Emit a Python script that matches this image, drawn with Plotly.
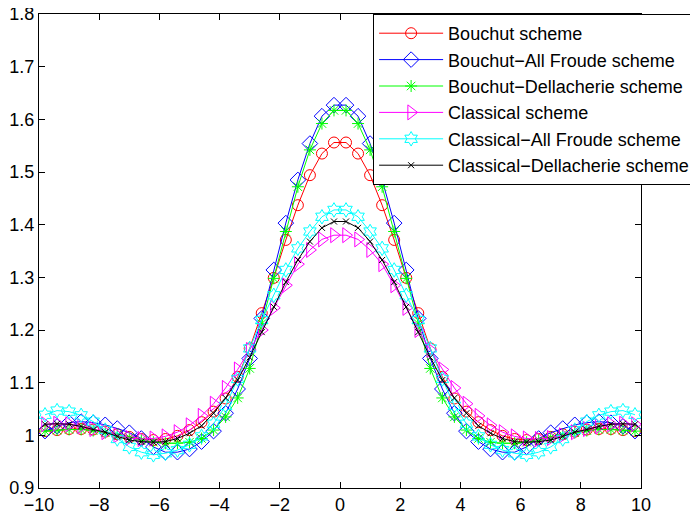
import plotly.graph_objects as go

x_vals = [-9.8, -9.4, -9.0, -8.6, -8.2, -7.8, -7.4, -7.0, -6.6, -6.2,
          -5.8, -5.4, -5.0, -4.6, -4.2, -3.8, -3.4, -3.0, -2.6, -2.2,
          -1.8, -1.4, -1.0, -0.6, -0.2, 0.2, 0.6, 1.0, 1.4, 1.8,
          2.2, 2.6, 3.0, 3.4, 3.8, 4.2, 4.6, 5.0, 5.4, 5.8,
          6.2, 6.6, 7.0, 7.4, 7.8, 8.2, 8.6, 9.0, 9.4, 9.8]

bouchut = [1.008, 1.010, 1.012, 1.012, 1.011, 1.007, 1.002, 0.997, 0.993, 0.991,
           0.993, 0.999, 1.010, 1.025, 1.045, 1.070, 1.111, 1.165, 1.232, 1.299,
           1.371, 1.437, 1.494, 1.535, 1.556, 1.556, 1.535, 1.494, 1.437, 1.371,
           1.299, 1.232, 1.165, 1.111, 1.070, 1.045, 1.025, 1.010, 0.999, 0.993,
           0.991, 0.993, 0.997, 1.002, 1.007, 1.011, 1.012, 1.012, 1.010, 1.008]

bouchut_af = [1.008, 1.017, 1.024, 1.026, 1.024, 1.020, 1.013, 1.005, 0.994, 0.978,
              0.968, 0.968, 0.974, 0.988, 1.008, 1.042, 1.088, 1.146, 1.222, 1.314,
              1.403, 1.485, 1.554, 1.606, 1.627, 1.627, 1.606, 1.554, 1.485, 1.403,
              1.314, 1.222, 1.146, 1.088, 1.042, 1.008, 0.988, 0.974, 0.968, 0.968,
              0.978, 0.994, 1.005, 1.013, 1.020, 1.024, 1.026, 1.024, 1.017, 1.008]

bouchut_dl = [1.008, 1.010, 1.011, 1.011, 1.009, 1.005, 1.001, 0.996, 0.991, 0.987,
              0.985, 0.985, 0.987, 0.994, 1.010, 1.035, 1.071, 1.127, 1.212, 1.298,
              1.387, 1.472, 1.542, 1.592, 1.617, 1.617, 1.592, 1.542, 1.472, 1.387,
              1.298, 1.212, 1.127, 1.071, 1.035, 1.010, 0.994, 0.987, 0.985, 0.985,
              0.987, 0.991, 0.996, 1.001, 1.005, 1.009, 1.011, 1.011, 1.010, 1.008]

classical = [1.021, 1.022, 1.021, 1.017, 1.012, 1.006, 1.000, 0.995, 0.993, 0.994,
             0.998, 1.006, 1.019, 1.037, 1.060, 1.090, 1.125, 1.162, 1.200, 1.242,
             1.285, 1.325, 1.352, 1.372, 1.380, 1.380, 1.372, 1.352, 1.325, 1.285,
             1.242, 1.200, 1.162, 1.125, 1.090, 1.060, 1.037, 1.019, 1.006, 0.998,
             0.994, 0.993, 0.995, 1.000, 1.006, 1.012, 1.017, 1.021, 1.022, 1.021]

classical_af = [1.039, 1.047, 1.045, 1.038, 1.026, 1.010, 0.993, 0.978, 0.968, 0.963,
                0.966, 0.972, 0.982, 0.998, 1.022, 1.056, 1.107, 1.165, 1.219, 1.266,
                1.314, 1.355, 1.387, 1.415, 1.428, 1.428, 1.415, 1.387, 1.355, 1.314,
                1.266, 1.219, 1.165, 1.107, 1.056, 1.022, 0.998, 0.982, 0.972, 0.966,
                0.963, 0.968, 0.978, 0.993, 1.010, 1.026, 1.038, 1.045, 1.047, 1.039]

classical_dl = [1.021, 1.022, 1.021, 1.017, 1.011, 1.006, 0.998, 0.991, 0.988, 0.987,
                0.988, 0.994, 1.004, 1.018, 1.042, 1.071, 1.105, 1.148, 1.196, 1.244,
                1.291, 1.333, 1.368, 1.394, 1.406, 1.406, 1.394, 1.368, 1.333, 1.291,
                1.244, 1.196, 1.148, 1.105, 1.071, 1.042, 1.018, 1.004, 0.994, 0.988,
                0.987, 0.988, 0.991, 0.998, 1.006, 1.011, 1.017, 1.021, 1.022, 1.021]

x_ticks = [-10, -8, -6, -4, -2, 0, 2, 4, 6, 8, 10]
x_ticktext = ["\u221210", "\u22128", "\u22126", "\u22124", "\u22122", "0", "2", "4", "6", "8", "10"]
y_ticks = [0.9, 1.0, 1.1, 1.2, 1.3, 1.4, 1.5, 1.6, 1.7, 1.8]
y_ticktext = ["0.9", "1", "1.1", "1.2", "1.3", "1.4", "1.5", "1.6", "1.7", "1.8"]

series = [
    ("Bouchut scheme", bouchut, "#ff0000", "circle-open", 11),
    ("Bouchut\u2212All Froude scheme", bouchut_af, "#0000ff", "diamond-open", 12),
    ("Bouchut\u2212Dellacherie scheme", bouchut_dl, "#00ff00", "asterisk-open", 10),
    ("Classical scheme", classical, "#ff00ff", "triangle-right-open", 13),
    ("Classical\u2212All Froude scheme", classical_af, "#00ffff", "hexagram-open", 11),
    ("Classical\u2212Dellacherie scheme", classical_dl, "#000000", "x-thin-open", 6),
]

fig = go.Figure()
for name, vals, color, sym, size in series:
    fig.add_trace(go.Scatter(
        x=x_vals, y=vals, name=name, mode="lines+markers",
        line=dict(color=color, width=1),
        marker=dict(symbol=sym, size=size, color=color,
                    line=dict(color=color, width=1)),
    ))

font_family = "Liberation Sans, Arial, Helvetica, sans-serif"
fig.update_layout(
    width=690, height=506,
    margin=dict(l=31, r=57, t=6, b=26, autoexpand=False),
    paper_bgcolor="white", plot_bgcolor="white",
    font=dict(family=font_family, size=18, color="black"),
    showlegend=True,
    legend=dict(
        x=0.555, y=1.0, xanchor="left", yanchor="top",
        bgcolor="white", bordercolor="black", borderwidth=1,
        font=dict(family=font_family, size=18, color="black"),
        itemwidth=64, tracegroupgap=0,
    ),
)
fig.update_xaxes(
    range=[-10, 10], tickvals=x_ticks, ticktext=x_ticktext,
    ticks="inside", ticklen=6, tickwidth=1, tickcolor="black",
    showline=True, linecolor="black", linewidth=1, mirror="ticks",
    showgrid=False, zeroline=False, automargin=False,
    ticklabeloverflow="allow",
    tickfont=dict(family=font_family, size=18, color="black"),
)
fig.update_yaxes(
    range=[0.9, 1.8], tickvals=y_ticks, ticktext=y_ticktext,
    ticks="inside", ticklen=6, tickwidth=1, tickcolor="black",
    showline=True, linecolor="black", linewidth=1, mirror="ticks",
    showgrid=False, zeroline=False, automargin=False,
    ticklabeloverflow="allow",
    tickfont=dict(family=font_family, size=18, color="black"),
)

fig.write_html("out.html")
